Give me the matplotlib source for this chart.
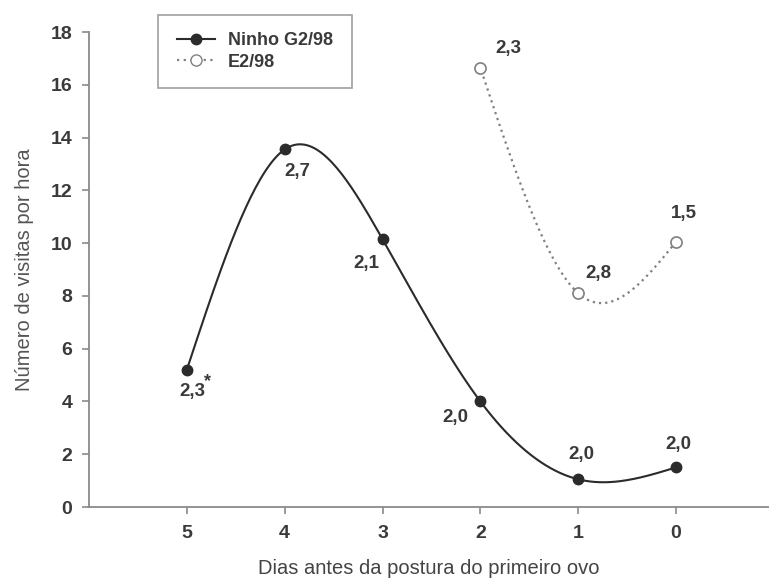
import numpy as np
import matplotlib
matplotlib.use("Agg")
import matplotlib.pyplot as plt

plt.rcParams['font.family'] = ['Liberation Sans', 'DejaVu Sans']

# Ninho G2/98
dias_g2 = [5, 4, 3, 2, 1, 0]
visitas_g2 = [5.2, 13.55, 10.15, 4.0, 1.05, 1.5]
rotulos_g2 = ['2,3', '2,7', '2,1', '2,0', '2,0', '2,0']
# E2/98
dias_e2 = [2, 1, 0]
visitas_e2 = [16.65, 8.1, 10.05]
rotulos_e2 = ['2,3', '2,8', '1,5']

# deslocamento dos rotulos (pixels)
desl_g2 = [(6, -22), (13, -22), (-16, -24), (-25, -16), (3, 25), (2, 23)]
desl_e2 = [(28, 19), (20, 20), (8, 28)]


def spline_natural(x, y, n=200):
    x = np.asarray(x, float)
    y = np.asarray(y, float)
    ordem = np.argsort(x)
    x, y = x[ordem], y[ordem]
    m = len(x)
    h = np.diff(x)
    A = np.zeros((m, m))
    b = np.zeros(m)
    A[0, 0] = 1
    A[-1, -1] = 1
    for i in range(1, m - 1):
        A[i, i - 1] = h[i - 1]
        A[i, i] = 2 * (h[i - 1] + h[i])
        A[i, i + 1] = h[i]
        b[i] = 6 * ((y[i + 1] - y[i]) / h[i] - (y[i] - y[i - 1]) / h[i - 1])
    M = np.linalg.solve(A, b)
    xs = np.linspace(x[0], x[-1], n)
    ys = np.zeros_like(xs)
    for k, xv in enumerate(xs):
        i = min(np.searchsorted(x, xv) - 1, m - 2)
        i = max(i, 0)
        t1 = x[i + 1] - xv
        t2 = xv - x[i]
        ys[k] = (M[i] * t1 ** 3 + M[i + 1] * t2 ** 3) / (6 * h[i]) \
            + (y[i] / h[i] - M[i] * h[i] / 6) * t1 \
            + (y[i + 1] / h[i] - M[i + 1] * h[i] / 6) * t2
    return xs, ys


fig = plt.figure(figsize=(7.69, 5.82), dpi=100)
ax = fig.add_axes([89 / 769, 75 / 582, 680 / 769, 475 / 582])

cor_g2 = '#2b2b2b'
cor_e2 = '#808080'
cor_txt = '#3a3a3a'

xs, ys = spline_natural(dias_g2, visitas_g2)
ax.plot(xs, ys, color=cor_g2, lw=1.5)
ax.plot(dias_g2, visitas_g2, 'o', color=cor_g2, ms=7.5)

xs, ys = spline_natural(dias_e2, visitas_e2)
ax.plot(xs, ys, color=cor_e2, lw=1.6, ls=(0, (1, 1.8)))
ax.plot(dias_e2, visitas_e2, 'o', mfc='white', mec=cor_e2, mew=1.2, ms=8)

# legenda
ax.plot([], [], '-o', color=cor_g2, ms=7.5, lw=1.5, label='Ninho G2/98')
ax.plot([], [], ls=(0, (1, 2)), marker='o', color=cor_e2, mfc='white',
        mec=cor_e2, ms=8, lw=1.6, label='E2/98')
h, l = ax.get_legend_handles_labels()
leg = ax.legend(h[-2:], l[-2:], loc='upper left',
                bbox_to_anchor=(158 / 769, 1 - 15 / 582),
                bbox_transform=fig.transFigure, frameon=True, fancybox=False,
                edgecolor='#888888', borderpad=0.95, labelspacing=0.25,
                handlelength=2.1, handletextpad=0.7, borderaxespad=0,
                prop={'size': 13, 'weight': 'bold'})
leg.get_frame().set_linewidth(1.2)
for t in leg.get_texts():
    t.set_color(cor_txt)
leg._legend_box.set_width(160)

for x, y, r, (dx, dy) in zip(dias_g2, visitas_g2, rotulos_g2, desl_g2):
    ax.annotate(r, (x, y), xytext=(dx * 0.72, dy * 0.72), textcoords='offset points',
                ha='center', va='center', fontsize=13.5, fontweight='bold', color=cor_txt)
ax.annotate('*', (dias_g2[0], visitas_g2[0]), xytext=(21 * 0.72, -12 * 0.72),
            textcoords='offset points', ha='center', va='center',
            fontsize=13, fontweight='bold', color=cor_txt)
for x, y, r, (dx, dy) in zip(dias_e2, visitas_e2, rotulos_e2, desl_e2):
    ax.annotate(r, (x, y), xytext=(dx * 0.72, dy * 0.72), textcoords='offset points',
                ha='center', va='center', fontsize=13.5, fontweight='bold', color=cor_txt)

ax.set_xlim(6, -0.95)
ax.set_ylim(0, 18)
ax.set_xticks(dias_g2)
ax.set_yticks(range(0, 19, 2))
ax.spines['top'].set_visible(False)
ax.spines['right'].set_visible(False)
for s in ['left', 'bottom']:
    ax.spines[s].set_color('#8a8a8a')
    ax.spines[s].set_linewidth(1.3)
ax.tick_params(axis='both', colors='#8a8a8a', labelcolor=cor_txt, width=1.2,
               length=5, labelsize=14)
for t in ax.get_xticklabels() + ax.get_yticklabels():
    t.set_fontweight('bold')
ax.tick_params(axis='x', pad=8)
ax.tick_params(axis='y', pad=7)

ax.set_xlabel('Dias antes da postura do primeiro ovo', fontsize=14.5, color='#444444',
              labelpad=12)
ax.set_ylabel('Número de visitas por hora', fontsize=14.5, color='#555555', labelpad=12)

fig.savefig('out.png', dpi=100)
